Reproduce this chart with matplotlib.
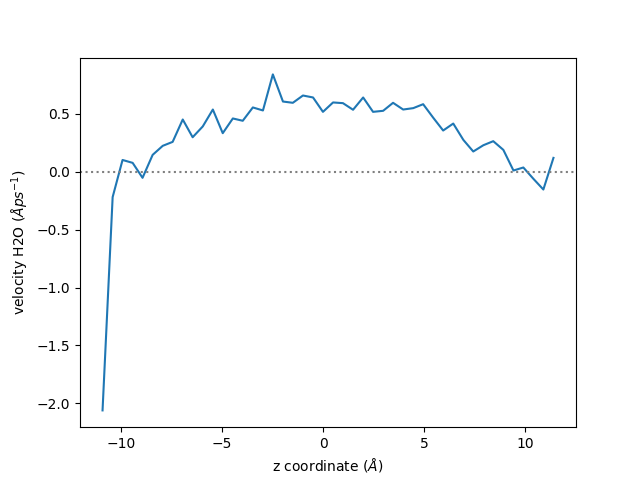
import matplotlib
matplotlib.use("Agg")
import matplotlib.pyplot as plt

z = [-10.92, -10.42, -9.93, -9.43, -8.94, -8.44, -7.94, -7.45, -6.95, -6.46,
     -5.96, -5.46, -4.97, -4.47, -3.98, -3.48, -2.98, -2.49, -1.99, -1.50,
     -1.00, -0.50, -0.01, 0.49, 0.98, 1.48, 1.98, 2.47, 2.97, 3.46,
     3.96, 4.46, 4.95, 5.45, 5.94, 6.44, 6.94, 7.43, 7.93, 8.42,
     8.92, 9.42, 9.91, 10.41, 10.90, 11.40]
velocity = [-2.06, -0.22, 0.10, 0.075, -0.054, 0.144, 0.222, 0.256, 0.449, 0.296,
            0.389, 0.535, 0.331, 0.458, 0.438, 0.553, 0.527, 0.838, 0.604, 0.593,
            0.656, 0.639, 0.515, 0.596, 0.590, 0.533, 0.639, 0.515, 0.524, 0.593,
            0.535, 0.547, 0.581, 0.464, 0.354, 0.414, 0.273, 0.173, 0.227, 0.262,
            0.187, 0.009, 0.035, -0.063, -0.155, 0.118]

fig, ax = plt.subplots(figsize=(6.4, 4.8), dpi=100)
ax.plot(z, velocity)
ax.axhline(0, color="gray", linestyle=":")
ax.set_xlabel(r"z coordinate ($\AA$)")
ax.set_ylabel(r"velocity H2O ($\AA ps^{-1}$)")
fig.savefig("out.png")
